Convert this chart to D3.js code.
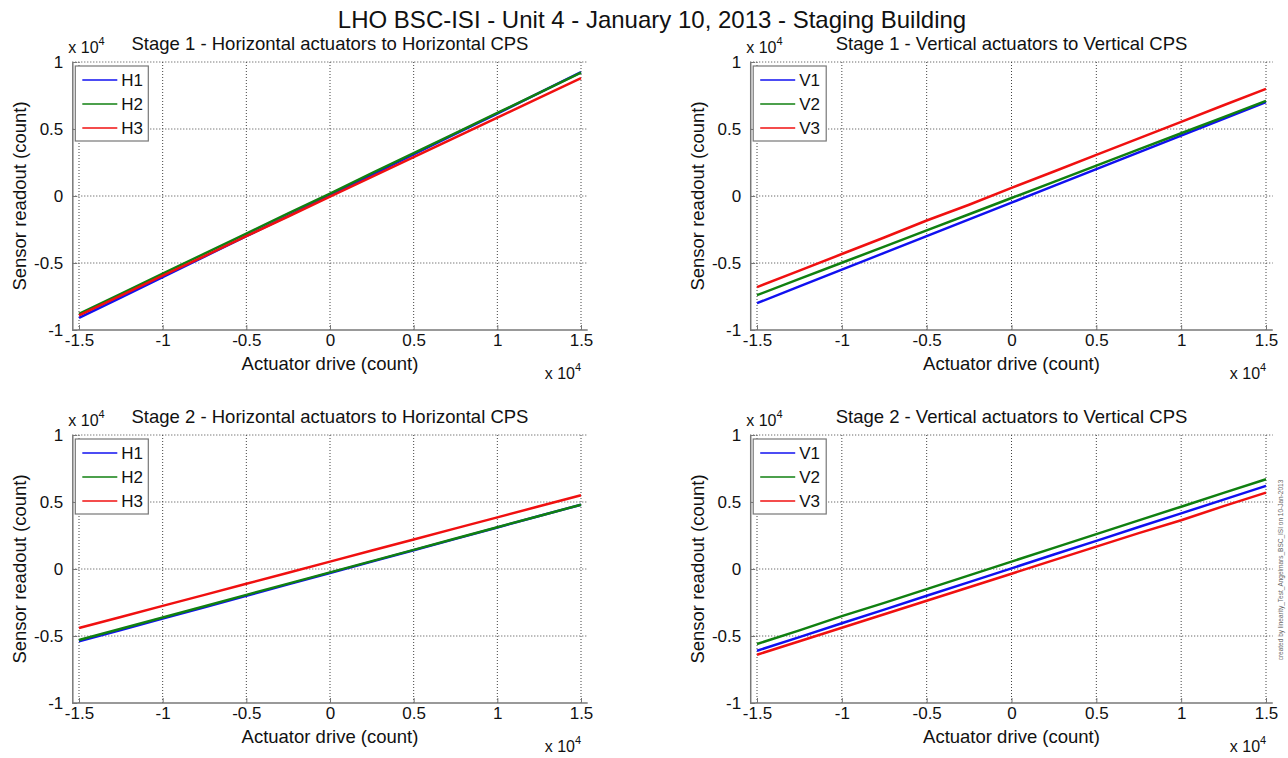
<!DOCTYPE html>
<html><head><meta charset="utf-8">
<script src="https://cdn.jsdelivr.net/npm/d3@7"></script>
<style>
html,body{margin:0;padding:0;background:#fff;}
svg{display:block;font-family:"Liberation Sans",Arial,sans-serif;}
</style></head>
<body>
<svg id="chart" width="1288" height="758"></svg>
<script>
// ---- data (counts) ----
const drive = [-15000,-12500,-10000,-7500,-5000,-2500,0,2500,5000,7500,10000,12500,15000];
const xTicks = [-15000,-10000,-5000,0,5000,10000,15000];
const yTicks = [-10000,-5000,0,5000,10000];

const s1H1 = [-9100,-7580,-6050,-4520,-3000,-1480,40,1580,3100,4630,6150,7700,9250];
const s1H2 = [-8800,-7300,-5800,-4300,-2800,-1300,180,1700,3200,4700,6200,7700,9200];
const s1H3 = [-8900,-7430,-5950,-4480,-3000,-1530,-50,1430,2900,4380,5850,7330,8800];

const s1V1 = [-8000,-6750,-5500,-4250,-3000,-1750,-500,750,2000,3250,4500,5750,7000];
const s1V2 = [-7400,-6190,-4980,-3780,-2570,-1360,-150,1060,2270,3480,4680,5890,7100];
const s1V3 = [-6800,-5570,-4330,-3100,-1830,-650,600,1830,3070,4300,5530,6770,8000];

const s2H1 = [-5400,-4550,-3700,-2850,-2000,-1150,-300,550,1400,2250,3100,3950,4800];
const s2H2 = [-5300,-4460,-3620,-2780,-1930,-1090,-250,590,1430,2270,3120,3960,4800];
const s2H3 = [-4400,-3580,-2750,-1930,-1100,-280,550,1380,2200,3030,3850,4680,5500];

const s2V1 = [-6100,-5080,-4050,-3030,-2000,-980,50,1080,2100,3130,4150,5180,6200];
const s2V2 = [-5600,-4580,-3520,-2530,-1500,-480,550,1580,2600,3630,4650,5680,6700];
const s2V3 = [-6400,-5390,-4380,-3380,-2370,-1360,-350,660,1670,2680,3640,4690,5700];

const colors = ["#1010f0","#108010","#f01010"];
const hNames = ["H1","H2","H3"];
const vNames = ["V1","V2","V3"];

const panels = [
  {title:"Stage 1 - Horizontal actuators to Horizontal CPS", names:hNames, series:[s1H1,s1H2,s1H3], x0:79, x1:581, top:62, bot:330},
  {title:"Stage 1 - Vertical actuators to Vertical CPS", names:vNames, series:[s1V1,s1V2,s1V3], x0:757, x1:1266, top:62, bot:330},
  {title:"Stage 2 - Horizontal actuators to Horizontal CPS", names:hNames, series:[s2H1,s2H2,s2H3], x0:79, x1:581, top:435, bot:703},
  {title:"Stage 2 - Vertical actuators to Vertical CPS", names:vNames, series:[s2V1,s2V2,s2V3], x0:757, x1:1266, top:435, bot:703}
];

const svg = d3.select("#chart");
const fmt = d => { const v = d/10000; return v===0 ? "0" : String(v); };

svg.append("text").attr("x",652).attr("y",28).attr("text-anchor","middle")
  .attr("font-size",24).attr("fill","#111")
  .text("LHO BSC-ISI - Unit 4 - January 10, 2013 - Staging Building");

panels.forEach(p => {
  const x = d3.scaleLinear().domain([-15000,15000]).range([p.x0,p.x1]);
  const y = d3.scaleLinear().domain([-10000,10000]).range([p.bot,p.top]);
  const xl = x(-15400), xr = x(15400);
  const g = svg.append("g");

  // grid
  g.selectAll(".gx").data(xTicks).enter().append("line")
    .attr("x1",d=>x(d)).attr("x2",d=>x(d)).attr("y1",p.top).attr("y2",p.bot)
    .attr("stroke","#444").attr("stroke-width",1).attr("stroke-dasharray","1,2");
  g.selectAll(".gy").data(yTicks.filter(d=>d>-10000)).enter().append("line")
    .attr("x1",xl).attr("x2",xr).attr("y1",d=>y(d)).attr("y2",d=>y(d))
    .attr("stroke","#444").attr("stroke-width",1).attr("stroke-dasharray","1,2");

  // axes
  const xAxis = d3.axisBottom(x).tickValues(xTicks).tickFormat(fmt).tickSizeInner(-5).tickSizeOuter(0).tickPadding(4);
  const ax = g.append("g").attr("transform",`translate(0,${p.bot})`).call(xAxis);
  ax.select(".domain").attr("d",`M${xl},0H${xr}`);
  const yAxis = d3.axisLeft(y).tickValues(yTicks).tickFormat(fmt).tickSizeInner(-5).tickSizeOuter(0).tickPadding(9);
  const ay = g.append("g").attr("transform",`translate(${xl},0)`).call(yAxis);
  [ax,ay].forEach(a=>{
    a.select(".domain").attr("stroke","#777").attr("stroke-width",1.5);
    a.selectAll(".tick line").attr("stroke","#777");
    a.selectAll(".tick text").attr("font-size",17).attr("fill","#111").attr("font-family","Liberation Sans, Arial, sans-serif");
  });

  // lines
  const line = d3.line().x((d,i)=>x(drive[i])).y(d=>y(d));
  p.series.forEach((s,i)=>{
    g.append("path").datum(s).attr("d",line).attr("fill","none")
      .attr("stroke",colors[i]).attr("stroke-width",2.5).attr("stroke-linejoin","round");
  });

  // multipliers
  const m1 = g.append("text").attr("x",xl-4).attr("y",p.top-9).attr("font-size",16).attr("fill","#111");
  m1.append("tspan").text("x 10");
  m1.append("tspan").attr("dy",-8).attr("font-size",11).text("4");
  const m2 = g.append("text").attr("x",xr-43).attr("y",p.bot+49).attr("font-size",16).attr("fill","#111");
  m2.append("tspan").text("x 10");
  m2.append("tspan").attr("dy",-8).attr("font-size",11).text("4");

  // title
  g.append("text").attr("x",(p.x0+p.x1)/2).attr("y",p.top-12).attr("text-anchor","middle")
    .attr("font-size",18.5).attr("fill","#111").text(p.title);

  // labels
  g.append("text").attr("x",(p.x0+p.x1)/2).attr("y",p.bot+40).attr("text-anchor","middle")
    .attr("font-size",18.5).attr("fill","#111").text("Actuator drive (count)");
  g.append("text").attr("transform",`translate(${xl-46},${(p.top+p.bot)/2}) rotate(-90)`)
    .attr("text-anchor","middle").attr("font-size",18.5).attr("fill","#111").text("Sensor readout (count)");

  // legend
  const lg = g.append("g").attr("transform",`translate(${xl+3},${p.top+4})`);
  lg.append("rect").attr("width",73).attr("height",75).attr("fill","#fff")
    .attr("stroke","#777").attr("stroke-width",1.2);
  p.names.forEach((n,i)=>{
    const yy = 14 + i*24;
    lg.append("line").attr("x1",7).attr("x2",42).attr("y1",yy).attr("y2",yy)
      .attr("stroke",colors[i]).attr("stroke-width",1.5);
    lg.append("text").attr("x",46).attr("y",yy+6).attr("font-size",17).attr("fill","#111").text(n);
  });
});

// watermark
svg.append("text").attr("transform","translate(1283,570) rotate(-90)")
  .attr("text-anchor","middle").attr("font-size",6.5).attr("fill","#666")
  .text("created by linearity_Test_Angelmars_BSC_ISI on 10-Jan-2013");
</script>
</body></html>
